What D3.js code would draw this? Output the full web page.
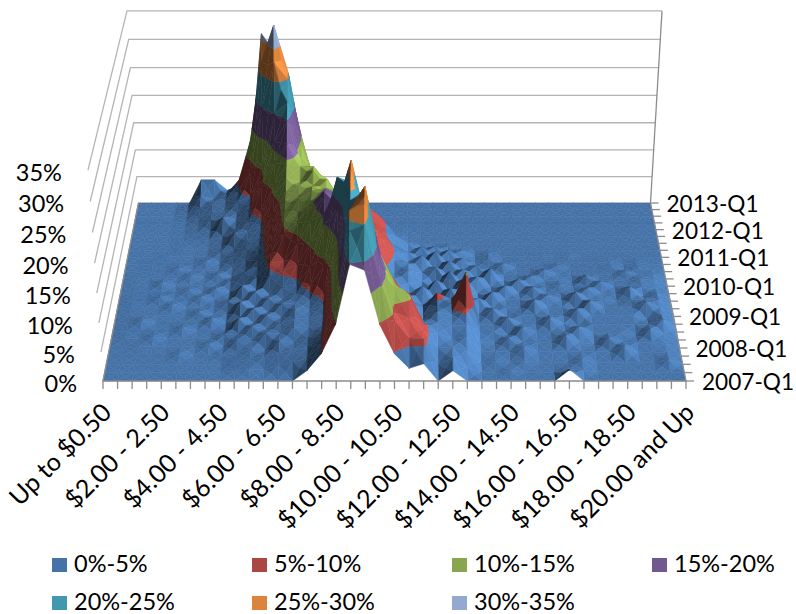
<!DOCTYPE html>
<html><head><meta charset="utf-8">
<style>html,body{margin:0;padding:0;background:#fff}svg{display:block}text{font-family:Lato,"Open Sans",sans-serif;fill:#000}</style>
<script src="https://cdn.jsdelivr.net/npm/d3@7/dist/d3.min.js"></script></head><body>
<svg id="c" width="796" height="614"></svg>
<script>
const quarters=["2007-Q1","2007-Q2","2007-Q3","2007-Q4","2008-Q1","2008-Q2","2008-Q3","2008-Q4","2009-Q1","2009-Q2","2009-Q3","2009-Q4","2010-Q1","2010-Q2","2010-Q3","2010-Q4","2011-Q1","2011-Q2","2011-Q3","2011-Q4","2012-Q1","2012-Q2","2012-Q3","2012-Q4","2013-Q1"];
const priceTicks=["Up to $0.50","$2.00 - 2.50","$4.00 - 4.50","$6.00 - 6.50","$8.00 - 8.50","$10.00 - 10.50","$12.00 - 12.50","$14.00 - 14.50","$16.00 - 16.50","$18.00 - 18.50","$20.00 and Up"];
const valueTicks=[0,5,10,15,20,25,30,35];
const bandLabels=["0%-5%","5%-10%","10%-15%","15%-20%","20%-25%","25%-30%","30%-35%"];
const bandColors=["#4572A7","#AA4643","#89A54E","#71588F","#4198AF","#DB843D","#93A9CF"];
const share=[
[0,0,0,0,0,0,0,0,0,0, 0,0,0,0,1.8,4.7,9.7,19.8,18.8,9.7, 4.7,2.2,3,0,1.8,0, 0,0,0,0,0,0,2,0,0,0,0,0,0,0,0],
[0,0,0,0,0,0,0,0,0,.3, .6,.6,1.2,1.8,2.5,5,11,24,25,16, 9,6,5.8,1.5,2.5,1, 0,0,.3,0,0,0,.5,.5,0,0,0,0,0,0,0],
[0,0,0,0,0,0,0,0,0,.5, .9,1.4,2,2.5,3,5,12,26,27,18, 9,8,6,3,3,2.5, .3,.6,.3,.6,.3,.3,.3,.9,.3,.3,.3,.3,.3,.9,0],
[0,0,0,0,0,.4,0,0,.3,.6, 1.2,1,2.6,2.4,3.2,4.6,12.5,25,27,17, 12,10.5,5.5,4,3,3.5, .8,.8,.8,1.6,.8,.8,.8,.8,.8,.8,1.8,.6,.6,.6,0],
[0,0,.2,.2,.2,.2,.2,.7,.2,1.4, 1.4,2.6,2.6,3.6,3.5,4.2,13,24,27.5,16, 11,9.5,4.5,4.5,4,4, 1.2,.8,1.8,1,1,1,2.2,1,.6,1.8,1,1,1,.8,.2],
[0,.2,.2,.6,.2,.2,.2,.2,.9,1.1, 2.4,2,3,3.8,3.8,4.5,13.5,24,25,15, 10,7,3.5,5,4.5,5.5, 1.4,1.4,.8,2.2,1.4,1.4,1.4,2.4,1.2,1.2,1.2,.8,2,1,.3],
[0,.2,.2,.2,.2,.7,.2,.2,.2,2.4, 1.5,3,2.6,4,3.8,4.8,14,26,22,12, 9,5.5,3,4.5,5,10.5, 1.4,1.4,2.6,1.4,1.4,2.6,1.4,1,1.4,1.4,1.4,1.4,1.4,2.2,.4],
[0,.2,.7,.2,.2,.2,.2,1,.3,1.2, 2.8,2.1,3.6,3.8,4.2,5.5,15,26.5,19,11, 7,4,3,5.5,4.5,5, 1.6,2.8,1.2,1.6,1.6,1.6,1.6,2.8,1.6,1.6,1.6,1.6,.8,1.6,.5],
[0,.2,.2,.2,.2,.2,.8,.2,.4,2.6, 1.6,3.2,3,4,5.5,9,19,27,17,9, 6,3.5,2,2.5,1.2,3, 3.2,1.4,1.6,1.6,3,1.6,1.6,1.2,2.8,1.6,1.6,1.6,2.6,1.6,.5],
[0,.2,.2,.2,.7,.2,.2,.4,1.2,1.4, 3,2.5,3.8,4.5,7.5,15,23,22,14,8, 5,2.5,4,1.5,3.6,2, 1,3,1.6,1.6,1.6,2.4,1.6,3,1.6,1.6,1.2,1.6,1.6,1.6,.5],
[0,.2,.2,.7,.2,.2,.8,.3,.5,2.8, 2,4.5,5.5,6.5,10.5,15.5,19,18,12,7, 4,3,1.2,3.8,1.5,4, 1.4,1.4,2.8,1.4,2.6,1.4,1.4,1.4,2.4,1.4,1.4,2.6,.8,1.4,.3],
[0,.1,.1,.1,.1,.6,.1,.9,.3,1.5, 3,5.5,6,9,13,18,17,15,10,6, 3.5,4.2,2.2,1,4,1.6, 3,1.2,1.2,2.6,1.2,1.2,1.6,1.2,1.2,2.2,1.2,1.2,1.2,.8,.2],
[0,.1,.1,.6,.1,.1,.2,.2,1,2.4, 3.5,6,9.5,11.5,14.5,17,16,15,10.5,7, 4.5,4,2.5,3.4,1.4,3, 1.2,3.2,1,1,1.8,1,1,.6,1.8,1,1,1,1.4,1,.2],
[0,.1,.1,.1,.1,.6,.2,.8,.3,1.3, 3.5,6.5,10.5,12,14,15.5,15,14,11,7.5, 5,3,4.2,1.2,3.2,1.4, 2.4,.8,.8,.8,.8,1.6,.8,.8,.8,.8,.8,1.4,.8,.8,.1],
[0,0,.1,.1,.5,.1,.2,.2,.9,2, 3.8,7,11,13,14.5,15,14.5,13,10,7, 4.5,3.5,1.5,3.6,1.1,2.4, .6,.6,1.4,.6,.6,.6,1,.6,.6,.6,.8,.3,.6,.3,0],
[0,0,.1,.1,.1,.1,.6,.3,1.5,2.8, 4,7.5,11.5,12.5,14,13,13,12,9,6, 3.5,2,3.2,1,2.6,.8, .4,.9,.4,.4,.4,.4,.4,.4,.4,.4,.4,.1,.3,.1,0],
[0,0,0,.1,.1,.1,.2,.9,1.6,3, 4,8,12,13,13,14,11,10,7,5.5, 4,2.5,1,2,.6,1.2, .2,.6,.2,.2,.2,.2,.1,.2,0,0,0,0,0,0,0],
[0,0,0,0,.1,.1,.2,.8,3,3.5, 4.5,10,13,12.5,14.5,13,9,8,8,6, 3,1.5,.9,.4,.7,.3, .1,.1,.1,0,0,0,0,0,0,0,0,0,0,0,0],
[0,0,0,0,.1,.3,.6,1.2,2.5,4, 5.5,11,14.5,14,14,11,7,5,5.5,3.5, 1.5,.6,.3,.2,.1,0, 0,0,0,0,0,0,0,0,0,0,0,0,0,0,0],
[0,0,0,0,.1,.5,1,3.5,3,4.5, 9.5,13.5,17,14,12,9,5,3,2,1, .4,.1,0,0,0,0, 0,0,0,0,0,0,0,0,0,0,0,0,0,0,0],
[0,0,0,0,.1,.6,1.8,2.5,3,4.5, 9.5,16,20,13,10,5,3,1.5,.5,.1, 0,0,0,0,0,0, 0,0,0,0,0,0,0,0,0,0,0,0,0,0,0],
[0,0,0,0,.2,1,2,2.5,4,5, 10.5,20,22,14,8,3,2,.5,0,0, 0,0,0,0,0,0, 0,0,0,0,0,0,0,0,0,0,0,0,0,0,0],
[0,0,0,0,.3,1.5,2.5,3,4.5,8.5, 20,28,25,14,5,2,.5,0,0,0, 0,0,0,0,0,0, 0,0,0,0,0,0,0,0,0,0,0,0,0,0,0],
[0,0,0,0,.5,2.5,2,3,5.5,13, 27,33.5,25,11,3,1,.3,0,0,0, 0,0,0,0,0,0, 0,0,0,0,0,0,0,0,0,0,0,0,0,0,0],
[0,0,0,0,0,4.4,4.4,2.4,3,10, 31,28,17,6,2,.5,0,0,0,0, 0,0,0,0,0,0, 0,0,0,0,0,0,0,0,0,0,0,0,0,0,0]
];

const nCols=share[0].length,nRows=share.length;
const uScale=d3.scaleLinear().domain([0,nCols-1]).range([0,1]);
const vScale=d3.scaleLinear().domain([0,nRows-1]).range([0,1]);
const wScale=d3.scaleLinear().domain([0,35]).range([0,1]);
const bandOf=d3.scaleThreshold().domain([5,10,15,20,25,30]).range(bandColors);
// perspective box fitted to the picture's floor and walls
function proj(c,r,z){
  const u=uScale(c),v=vScale(r),w=wScale(z);
  const D=1+0.1387*v-0.049*w;
  return [394.5+(u-.5)*583/D,(381-149.8*v-219.3*w)/D];
}
const svg=d3.select("#c");
const line=d3.line();
const gridCol="#b4b4b4",axisCol="#8c8c8c";
const walls=svg.append("g").attr("fill","none").attr("stroke",gridCol).attr("stroke-width",1.3);
valueTicks.forEach(t=>{
  walls.append("path").attr("d",line([proj(0,0,t),proj(0,nRows-1,t),proj(nCols-1,nRows-1,t)]));
});
walls.append("path").attr("stroke",axisCol).attr("d",line([proj(nCols-1,nRows-1,0),proj(nCols-1,nRows-1,35)]));

// surface facets
const polys=[];
function clip(tri,lo,hi){
  let out=tri;
  [[lo,1],[hi,-1]].forEach(([lim,s])=>{
    const res=[];
    out.forEach((p,i)=>{
      const q=out[(i+1)%out.length];
      const a=(p[2]-lim)*s,b=(q[2]-lim)*s;
      if(a>=0)res.push(p);
      if((a>=0)!==(b>=0)){const t=a/(a-b);res.push([p[0]+(q[0]-p[0])*t,p[1]+(q[1]-p[1])*t,p[2]+(q[2]-p[2])*t]);}
    });
    out=res;
  });
  return out;
}
const L=[0.6,-0.15,0.78],zS=0.3;
function shade(t){
  const a=[t[1][0]-t[0][0],t[1][1]-t[0][1],(t[1][2]-t[0][2])*zS];
  const b=[t[2][0]-t[0][0],t[2][1]-t[0][1],(t[2][2]-t[0][2])*zS];
  let n=[a[1]*b[2]-a[2]*b[1],a[2]*b[0]-a[0]*b[2],a[0]*b[1]-a[1]*b[0]];
  const m=Math.hypot(...n);n=n.map(d=>d/m);if(n[2]<0)n=n.map(d=>-d);
  return Math.max(.4,Math.min(1.55,(n[0]*L[0]+n[1]*L[1]+n[2]*L[2])/L[2]));
}
function tint(col,f){const c=d3.rgb(col);return d3.rgb(Math.min(255,c.r*f),Math.min(255,c.g*f),Math.min(255,c.b*f)).formatHex();}
const edges=[5,10,15,20,25,30];
const lows=[0,...edges],highs=[...edges,36];
for(let r=nRows-2;r>=0;r--){
  const cols=d3.range(nCols-1).sort((a,b)=>Math.abs(b+.5-20)-Math.abs(a+.5-20));
  cols.forEach(c=>{
    const A=[c,r,share[r][c]],B=[c+1,r,share[r][c+1]],C=[c+1,r+1,share[r+1][c+1]],E=[c,r+1,share[r+1][c]];
    const M=[c+.5,r+.5,(A[2]+B[2]+C[2]+E[2])/4];
    const side=c+.5<20?[[E,A,M],[B,C,M]]:[[B,C,M],[E,A,M]];
    [[C,E,M],...side,[A,B,M]].forEach(tri=>{
      const f=shade(tri);
      lows.forEach((lo,i)=>{
        const poly=clip(tri,lo,highs[i]);
        if(poly.length>2)polys.push({pts:poly.map(p=>proj(p[0],p[1],p[2])),col:tint(bandOf(lo),f)});
      });
    });
  });
}
svg.append("g").selectAll("path").data(polys).join("path")
  .attr("d",d=>line(d.pts)+"Z").attr("fill",d=>d.col).attr("stroke",d=>d.col).attr("stroke-width",.5);

// axes
const ax=svg.append("g").attr("fill","none").attr("stroke",axisCol).attr("stroke-width",1.3);
ax.append("path").attr("d",line([proj(0,nRows-1,0),proj(0,0,0),proj(nCols-1,0,0),proj(nCols-1,nRows-1,0)]));
d3.range(nCols).forEach(c=>{const p=proj(c,0,0);ax.append("path").attr("d",line([p,[p[0],p[1]+8]]));});
d3.range(nRows).forEach(r=>{const p=proj(nCols-1,r,0);ax.append("path").attr("d",line([p,[p[0]+8,p[1]]]));});

const font=23.5;
valueTicks.forEach(t=>{
  const p=proj(0,0,t);
  svg.append("text").attr("x",p[0]-26).attr("y",p[1]+2.5).attr("dy",".35em").attr("text-anchor","end").attr("font-size",font).text(t+"%");
});
quarters.forEach((q,r)=>{
  if(!q.endsWith("Q1"))return;
  const p=proj(nCols-1,r,0);
  svg.append("text").attr("x",p[0]+16).attr("y",p[1]+1).attr("dy",".35em").attr("font-size",22.6).text(q);
});
priceTicks.forEach((t,i)=>{
  const p=proj(i*4,0,0);
  svg.append("text").attr("transform",`translate(${p[0]+10},${p[1]+33}) rotate(-45)`).attr("text-anchor","end").attr("font-size",25).text(t);
});
// legend
const lx=[52,252,452,652],ly=[558,596];
bandLabels.forEach((b,i)=>{
  const x=lx[i%4],y=ly[Math.floor(i/4)];
  svg.append("rect").attr("x",x).attr("y",y).attr("width",15).attr("height",14).attr("fill",bandColors[i]);
  svg.append("text").attr("x",x+22).attr("y",y+6).attr("dy",".35em").attr("font-size",font).text(b);
});
</script></body></html>
